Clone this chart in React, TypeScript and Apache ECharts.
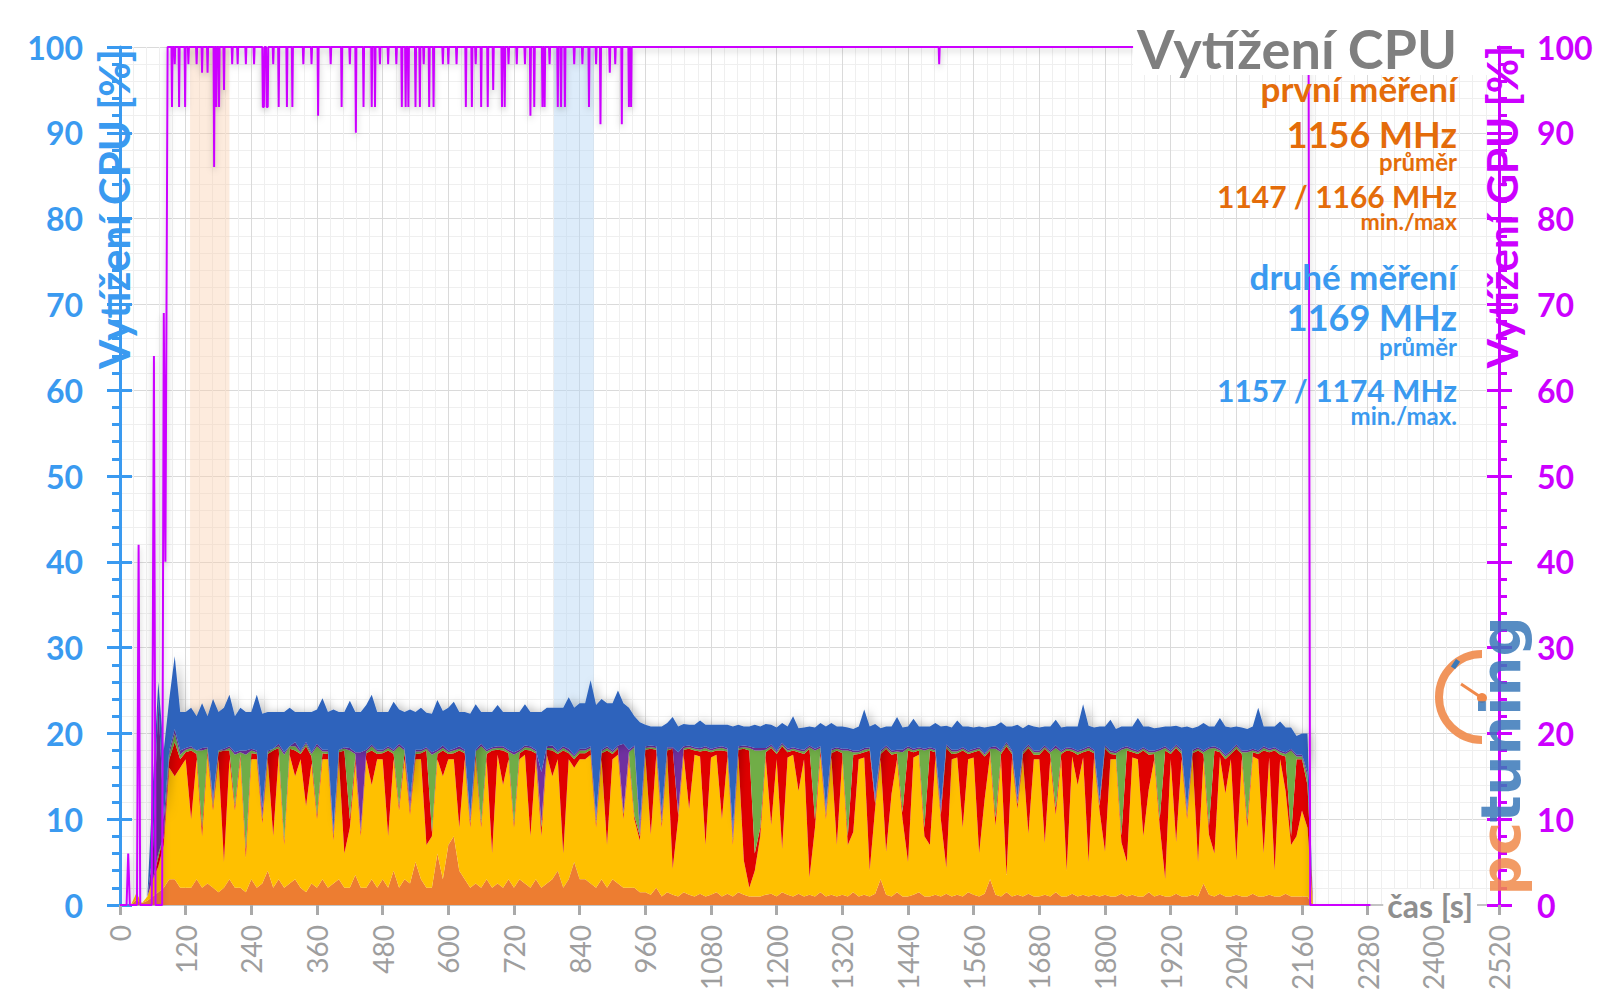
import { useEffect, useRef } from "react";
import * as echarts from "echarts";

// sampling interval of the CPU traces (seconds)
const STEP_S = 10;
const X_MAX = 2520;

// stacked CPU load per thread group [% of CPU], one value per STEP_S, t = 0 … 2180 s
const loadOrange = [
  0, 0, 0, 0.6, 0.2, 0.5, 1, 1.5, 2, 3, 3, 2,
  2, 2, 3, 2, 2.5, 2, 1.5, 2, 3, 2, 2, 1.5,
  3, 2, 2.5, 4, 2, 3, 2, 2.5, 3, 2, 1.5, 2.5,
  2, 3, 2, 2.5, 3, 2, 2, 3.5, 2, 2, 3, 2,
  3, 2, 4, 2, 3, 2.5, 5, 3, 2, 2, 6, 3,
  7, 8, 4, 3, 2, 2.5, 2, 3, 2, 2.5, 2, 3,
  2, 3, 2.5, 2, 3, 2, 2.5, 3, 4, 2, 3, 5,
  3, 3, 2.5, 2, 3, 2, 3, 2.5, 2, 2, 2, 1.5,
  1.5, 1.2, 2, 1, 1.5, 1.2, 1, 1.5, 1.2, 1, 1.3, 1,
  1.2, 1.5, 1, 1.3, 1, 1.5, 1.2, 1, 1, 1, 1.2, 1.3,
  1, 1.5, 1.2, 1, 1.3, 1, 1.2, 1, 1.5, 1, 1.2, 1,
  1.2, 1, 1.5, 1, 1.2, 1, 1.3, 3, 1.2, 1, 1.5, 1,
  1, 1.2, 1.5, 1, 1, 1.2, 1, 1.3, 1, 1.2, 1, 1.5,
  1.2, 1, 1.3, 3, 1.2, 1, 1.5, 1, 1.2, 1, 1.3, 1,
  1, 1.2, 1, 1.5, 1, 1, 1.3, 1, 1.2, 1, 1.2, 1,
  1.2, 1, 1, 1.3, 1, 1.2, 1, 1, 1.5, 1, 1.2, 1,
  1, 1.3, 1, 1, 1.2, 1, 2.5, 1.2, 1, 1.3, 1, 1,
  1.2, 1, 1, 1.3, 1, 1, 1.2, 1, 1, 1.3, 1, 1,
  1, 1, 0,
];
const loadYellow = [
  0, 0, 0, 0.8, 0, 0.5, 2, 3, 5, 13, 12, 14,
  15, 8, 14, 6, 15, 9, 15.5, 3, 14, 9, 15, 4,
  14, 15, 7, 13, 6, 14.5, 5, 15, 12, 15, 10, 14,
  8, 14, 15, 5, 14, 4, 7, 13, 6, 15, 11, 15,
  14, 6, 13, 9, 14, 8, 12, 14, 5, 6, 11, 12,
  10, 9, 5, 14, 7, 14.5, 7, 14, 4, 15, 12, 14,
  7, 14, 15, 6, 14, 6, 15, 12, 13, 4, 14, 11,
  14, 14, 15, 7, 14, 5, 14, 15, 8, 15, 8, 6,
  16, 7, 15.5, 8, 16, 3, 9, 16, 10, 16.5, 16, 6,
  16, 16, 9, 16, 6, 16, 4, 1, 3, 7, 16, 8,
  16, 5, 16, 16.5, 12, 16, 2, 8, 16, 9, 16, 6,
  16, 6, 7, 16, 16, 3, 10, 14, 5, 12, 15.5, 9,
  4, 16, 16, 7, 6, 16, 9, 3, 16, 16, 8, 15.5,
  16, 5, 11, 14.5, 8, 16, 2, 16, 10, 16, 7, 16,
  16, 6, 16, 9, 16, 3, 16, 13, 16, 4, 16, 10,
  5, 16, 16, 6, 4, 16, 16, 7, 12, 16, 8, 2,
  16, 6, 16, 9, 16, 4, 14.5, 7, 5, 16, 12, 16,
  4, 16, 8, 16, 16, 5, 16, 3, 16, 12, 6, 7,
  10, 8, 0,
];
const loadRed = [
  0, 0, 0, 0, 0, 0, 0, 1, 1, 1, 4, 1,
  0.8, 8, 0.6, 1, 0.5, 0.5, 0.8, 13, 1, 0.5, 0.6, 1,
  0.7, 0.6, 0.5, 0.6, 10, 0.8, 0.5, 0.7, 3, 0.6, 7, 0.8,
  0.5, 0.7, 0.6, 0.5, 0.8, 12, 1, 0.8, 0.5, 0.7, 4, 0.6,
  0.7, 10, 0.6, 0.5, 0.8, 0.5, 0.6, 0.7, 11, 0.5, 0.6, 3,
  0.6, 0.7, 9, 0.7, 0.5, 0.7, 0.5, 0.6, 12, 0.6, 4, 0.7,
  0.5, 0.7, 0.6, 10, 0.7, 1, 0.6, 3, 0.6, 12, 0.7, 1,
  0.7, 0.7, 0.6, 0.5, 0.7, 11, 0.6, 0.7, 0.5, 0.6, 0.4, 0.5,
  0.6, 10, 0.6, 0.5, 0.5, 14, 0.5, 0.6, 7, 0.5, 0.6, 11,
  0.6, 0.5, 8, 0.6, 0.5, 0.6, 13, 16, 2, 1, 0.6, 9,
  0.6, 12, 0.6, 0.5, 4.5, 0.6, 15, 1, 0.6, 0.5, 0.5, 11,
  0.5, 1, 9, 0.6, 0.6, 14, 0.5, 0.6, 12, 4.5, 0.7, 0.8,
  13, 0.6, 0.5, 1, 11, 0.6, 0.5, 14, 0.6, 0.5, 9, 0.6,
  0.6, 12, 5, 0.5, 1, 0.6, 15, 0.6, 0.5, 0.6, 10, 0.5,
  0.5, 11, 0.6, 0.8, 0.6, 14, 0.6, 3.5, 0.6, 13, 0.5, 0.5,
  12, 0.6, 0.5, 0.8, 13, 0.6, 0.6, 10, 4, 0.6, 0.8, 15,
  0.6, 11, 0.6, 0.5, 0.5, 13, 0.6, 1, 12, 0.5, 4, 0.6,
  13, 0.6, 0.8, 0.5, 0.6, 12, 0.6, 14, 0.5, 4, 1, 9,
  6, 5, 0,
];
const loadGreen = [
  0, 0, 0, 0, 0, 0, 0, 0.5, 0, 0.5, 1, 0.5,
  0.3, 0.3, 0.4, 9, 0.2, 0.5, 0.2, 0, 0.3, 6, 0.2, 11,
  0.3, 0.2, 0.3, 0.2, 0.2, 0.2, 10, 0.3, 0.5, 0.2, 0.3, 0.3,
  8, 0.2, 0.3, 0.3, 0.3, 0.2, 8, 0.3, 0.3, 0.2, 0.5, 0.3,
  0.2, 0.3, 0.3, 7, 0.2, 0.3, 0.3, 0.2, 0.2, 9, 0.3, 0.3,
  0.2, 0.3, 0.2, 0.2, 0.3, 0.2, 9, 0.3, 0.2, 0.2, 0.3, 0.2,
  8, 0.2, 0.3, 0.3, 0.2, 0.5, 0.2, 0.3, 0.2, 0.3, 0.2, 0.3,
  0.3, 0.3, 0.2, 0.3, 0.2, 0.3, 0.2, 0.2, 0.3, 0.2, 8, 0.3,
  0.2, 0.2, 0.2, 0.3, 0.2, 0, 0.3, 0.2, 0.2, 0.2, 0.2, 0.3,
  0.2, 0.2, 0.3, 0.2, 0.3, 0.2, 0.2, 0.3, 12, 9, 0.3, 0.2,
  0.2, 0.2, 0.2, 0.2, 0.2, 0.3, 0.2, 8, 0.2, 0.3, 0.3, 0.2,
  0.3, 10, 0.3, 0.2, 0.3, 0.2, 0.3, 0.2, 0.2, 0.3, 0.2, 7,
  0.3, 0.2, 0.2, 9, 0.2, 0.2, 0.3, 0.2, 0.3, 0.2, 0.2, 0.2,
  0.2, 0.2, 0.2, 0.2, 8, 0.2, 0.3, 0.2, 0.3, 0.2, 0.2, 0.3,
  0.3, 0.2, 0.2, 7, 0.2, 0.2, 0.2, 0.3, 0.2, 0.3, 0.2, 0.3,
  0.2, 0.2, 0.2, 10, 0.3, 0.2, 0.2, 0.2, 0.3, 0.2, 8, 0.3,
  0.2, 0.2, 0.3, 0.3, 0.2, 0.2, 0.2, 9, 0.3, 0.2, 0.3, 0.2,
  0.3, 0.2, 8, 0.2, 0.2, 0.3, 0.2, 0.2, 0.3, 0.3, 10, 0.3,
  0.3, 1, 0,
];
const loadPurple = [
  0, 0, 0, 0, 0, 0, 3, 18, 2, 0.5, 0.5, 0.5,
  0.2, 0.2, 0, 0.3, 0.2, 0.5, 0, 0.2, 0.2, 0.3, 0.2, 0.5,
  0.2, 0.2, 1, 0.2, 0, 0.3, 0.3, 0, 0.5, 0.2, 0.2, 0.2,
  0.3, 0.2, 0.2, 0.5, 0, 0.2, 0.3, 0.2, 9, 0.2, 0.2, 0.2,
  0.2, 0.2, 0.2, 0.3, 0.2, 1, 0.2, 0.2, 0.2, 0.3, 0.2, 0.3,
  0.2, 0.2, 0.3, 0.2, 0.5, 0.2, 0.3, 0.2, 0.2, 0.2, 0.2, 0.2,
  0.3, 0.2, 0.2, 0.2, 0.2, 6, 0.2, 0.3, 0.2, 0.2, 0.3, 0.2,
  0.2, 0.2, 0.2, 0.5, 0.2, 0.2, 0.2, 0.2, 8, 0.3, 0.2, 1,
  0.2, 0.2, 0.2, 1, 0.2, 0.2, 7, 0.2, 0.2, 0.2, 0.2, 0.2,
  0.2, 0.2, 0.2, 0.2, 1, 0.2, 0.2, 0.2, 0.3, 0.3, 0.2, 0.2,
  0.2, 0.2, 0.2, 0.2, 0.2, 0.2, 0.2, 0.2, 0.2, 0.5, 0.2, 0.2,
  0.2, 0.2, 0.2, 0.2, 0.2, 0.2, 0.5, 0.2, 0.2, 0.2, 0.2, 0.3,
  0.2, 0.2, 0.2, 0.2, 0.2, 0.2, 0.7, 0.2, 0.2, 0.2, 0.2, 0.2,
  0.2, 0.2, 0.2, 0.2, 0.3, 0.2, 0.2, 0.2, 0.5, 0.2, 0.2, 0.2,
  0.2, 0.2, 0.2, 0.3, 0.2, 0.2, 0.2, 0.2, 0.2, 0.2, 0.2, 0.5,
  0.2, 0.2, 0.2, 0.2, 0.2, 0.2, 0.2, 0.2, 0.2, 0.2, 0.2, 0.2,
  0.2, 0.2, 0.2, 0.5, 0.2, 0.2, 0.2, 0.2, 0.2, 0.2, 0.2, 0.2,
  0.2, 0.2, 0.2, 0.2, 0.2, 0.2, 0.2, 0.2, 0.2, 0.2, 0.2, 0.2,
  0.2, 0.5, 0,
];
const loadBlue = [
  0, 0, 0, 0, 0, 0, 8, 2, 8, 6, 8.5, 4.5,
  4.2, 4.5, 4, 5.2, 3.6, 11.5, 4.5, 4.8, 6, 4.2, 5, 4.5,
  4.3, 6.5, 11, 4.5, 4.3, 3.7, 4.7, 4.5, 3.5, 4.5, 3.5, 4.7,
  4, 6, 4.4, 14, 4.4, 4.1, 5.5, 4.7, 4.7, 5.2, 5.8, 4.4,
  4.4, 4, 5.6, 4, 4.3, 10.5, 4.4, 4.9, 4, 4.5, 5.8, 4,
  5, 5.5, 4, 4.4, 12, 5.3, 3.7, 4.4, 4.1, 4.8, 4, 4.4,
  4.7, 4.4, 4.8, 4, 4.4, 7, 4.5, 4.4, 5, 4.5, 6, 5.5,
  5.3, 5.3, 7.7, 13, 5.9, 5, 5.5, 6.4, 4.7, 4.9, 3.4, 12,
  2.5, 2.2, 2.3, 10, 2.8, 3.5, 3, 2.6, 2.4, 2.6, 3.2, 2.5,
  2.8, 2.6, 2.5, 2.7, 12, 2.5, 2.2, 2.3, 2.7, 2.5, 2.8, 2.3,
  2.7, 2.3, 2.6, 3.6, 2.4, 2.6, 2.2, 2.5, 2.7, 9.5, 3, 2.4,
  2.6, 2.5, 2.5, 2.8, 4.5, 2.4, 8.5, 2.6, 2.2, 2.8, 3.8, 2.6,
  2.3, 3.5, 2.4, 2.6, 2.4, 3, 9.3, 2.2, 2.6, 3.4, 2.4, 2.8,
  2.5, 2.4, 3, 2.4, 2.4, 3.3, 1.8, 2.8, 8.5, 2.6, 2.3, 2.8,
  2.7, 2.2, 2.8, 3, 2.7, 2.4, 2.5, 2.8, 5.2, 2.4, 2.6, 8.5,
  2.2, 3.6, 2.6, 2.5, 2.3, 2.6, 3.8, 2.4, 2.8, 2.6, 2.5, 2.3,
  2.8, 2.2, 2.6, 9.5, 2.5, 2.4, 3.2, 2.4, 2.3, 3.6, 3.3, 2.7,
  2.1, 2.7, 2.5, 2.6, 5, 2.3, 2.6, 2.4, 3.4, 2.9, 2.5, 2.2,
  2.5, 4.5, 0,
];

// GPU load [%] as (time s, load %) samples
const gpuTrace: [number, number][] = [
  [0, 0], [12, 0], [15, 6], [18, 0], [31, 0], [34, 42], [37, 0], [58, 0], [62, 64], [65, 0],
  [77, 0], [80, 69], [83, 40], [87, 100],
  [94, 100], [95, 93], [96, 100], [99, 100], [100, 98], [101, 100], [107, 100], [108, 93], [109, 100],
  [118, 100], [119, 93], [120, 100], [124, 100], [125, 98], [126, 100], [139, 100], [140, 98], [141, 100],
  [149, 100], [150, 97], [151, 100], [159, 100], [160, 97], [161, 100], [171, 100], [172, 86], [173, 100],
  [175, 100], [176, 93], [177, 100], [180, 100], [181, 93], [182, 100], [189, 100], [190, 95], [191, 100],
  [204, 100], [205, 98], [206, 100], [214, 100], [215, 98], [216, 100], [229, 100], [230, 98], [231, 100],
  [244, 100], [245, 98], [246, 100], [260, 100], [261, 93], [263, 93], [264, 100], [267, 100], [268, 93],
  [270, 93], [271, 100], [279, 100], [280, 98], [281, 100], [289, 100], [290, 93], [291, 100],
  [304, 100], [305, 93], [306, 100], [314, 100], [315, 93], [316, 100], [334, 100], [335, 98], [336, 100],
  [349, 100], [350, 98], [351, 100], [361, 100], [362, 92], [363, 100], [384, 100], [385, 98], [386, 100],
  [404, 100], [405, 93], [406, 100], [419, 100], [420, 98], [421, 100], [430, 100], [431, 90], [432, 100],
  [444, 100], [445, 93], [446, 100], [459, 100], [460, 93], [461, 100], [465, 100], [466, 93], [467, 100],
  [474, 100], [475, 98], [476, 100], [489, 100], [490, 98], [491, 100], [504, 100], [505, 98], [506, 100],
  [514, 100], [515, 93], [516, 100], [521, 100], [522, 93], [523, 100], [526, 100], [527, 93], [528, 100],
  [539, 100], [540, 93], [541, 100], [547, 100], [548, 93], [549, 100], [554, 100], [555, 98], [556, 100],
  [564, 100], [565, 93], [566, 100], [572, 100], [573, 93], [574, 100], [589, 100], [590, 98], [591, 100],
  [599, 100], [600, 98], [601, 100], [614, 100], [615, 98], [616, 100], [631, 100], [632, 93], [633, 100],
  [642, 100], [643, 93], [644, 100], [649, 100], [650, 98], [651, 100], [659, 100], [660, 93], [661, 100],
  [671, 100], [672, 93], [673, 100], [681, 100], [682, 95], [683, 100], [697, 100], [698, 93], [699, 100],
  [702, 100], [703, 93], [704, 100], [709, 100], [710, 98], [711, 100], [724, 100], [725, 98], [726, 100],
  [739, 100], [740, 98], [741, 100], [749, 100], [750, 92], [751, 100], [756, 100], [757, 93], [758, 100],
  [771, 100], [772, 93], [773, 100], [775, 100], [776, 93], [777, 100], [784, 100], [785, 98], [786, 100],
  [799, 100], [800, 93], [801, 100], [805, 100], [806, 93], [807, 100], [812, 100], [813, 93], [814, 100],
  [829, 100], [830, 98], [831, 100], [844, 100], [845, 98], [846, 100], [856, 100], [857, 93], [858, 100],
  [869, 100], [870, 98], [871, 100], [877, 100], [878, 91], [879, 100], [894, 100], [895, 97], [896, 100],
  [904, 100], [905, 98], [906, 100], [916, 100], [917, 91], [918, 100], [929, 100], [930, 93], [931, 100],
  [933, 100], [934, 93], [935, 100], [943, 100],
  [1496, 100], [1497, 98], [1498, 100], [2172, 100], [2175, 0], [2285, 0],
];

// shaded measurement windows [s]
const firstWindow = [128, 200];
const secondWindow = [793, 866];

// annotation texts
const chartTitle = "Vytížení CPU";
const firstLabel = "první měření";
const firstAvg = "1156 MHz";
const firstMinMax = "1147 / 1166 MHz";
const secondLabel = "druhé měření";
const secondAvg = "1169 MHz";
const secondMinMax = "1157 / 1174 MHz";

// hidden category axis for the stacked CPU traces (one slot per STEP_S up to X_MAX)
const cpuSlots = Array.from({ length: X_MAX / STEP_S + 1 }, (_, i) => String(i * STEP_S));

const BLUE_AXIS = "#3A9AF0";
const MAGENTA = "#CC00FF";
const ORANGE_TXT = "#E46C0A";
const FONT = "Lato";

export default function App() {
  const ref = useRef<HTMLDivElement>(null);

  useEffect(() => {
    if (!ref.current) return;
    const chart = echarts.init(ref.current, undefined, { renderer: "svg" });

    const areaSeries = (name: string, data: number[], color: string, extra: any = {}) => ({
      name,
      type: "line",
      xAxisIndex: 1,
      stack: "cpu",
      data,
      symbol: "none",
      lineStyle: { width: 0 },
      itemStyle: { color },
      areaStyle: { color, opacity: 1, ...extra },
      z: 3,
      silent: true,
    });

    const txt = (text: string, y: number, size: number, color: string) => ({
      type: "text",
      x: 1457,
      y,
      z: 100,
      style: {
        text,
        fill: color,
        font: `bold ${size}px ${FONT}`,
        align: "right",
        verticalAlign: "middle",
      },
    });

    const option: any = {
      animation: false,
      backgroundColor: "#ffffff",
      grid: { left: 120, right: 101, top: 47, bottom: 95, outerBoundsMode: "none" },
      xAxis: [
        {
          type: "value",
          min: 0,
          max: X_MAX,
          interval: 120,
          axisLine: { show: true, onZero: false, lineStyle: { color: "#C4C4C4", width: 2 } },
          axisTick: { show: true, length: 10, lineStyle: { color: "#AAAAAA", width: 3 } },
          axisLabel: {
            rotate: 90,
            color: "#9E9E9E",
            fontSize: 28,
            fontFamily: FONT,
            margin: 20,
            formatter: (v: number) => String(v),
          },
          splitLine: { show: true, lineStyle: { color: "#DADADA", width: 1 } },
          minorTick: { show: false, splitNumber: 5 },
          minorSplitLine: { show: true, lineStyle: { color: "#EFEFEF", width: 1 } },
        },
        {
          type: "category",
          data: cpuSlots,
          boundaryGap: false,
          show: false,
        },
      ],
      yAxis: [
        {
          type: "value",
          position: "left",
          min: 0,
          max: 100,
          interval: 10,
          axisLine: { show: true, lineStyle: { color: BLUE_AXIS, width: 3 } },
          axisTick: { show: true, length: 13, lineStyle: { color: BLUE_AXIS, width: 3 } },
          minorTick: { show: true, splitNumber: 5, length: 8, lineStyle: { color: BLUE_AXIS, width: 3 } },
          axisLabel: { color: BLUE_AXIS, fontSize: 32, fontWeight: "bold", fontFamily: FONT, margin: 37 },
          splitLine: { show: true, lineStyle: { color: "#DADADA", width: 1 } },
          minorSplitLine: { show: true, lineStyle: { color: "#EFEFEF", width: 1 } },
        },
        {
          type: "value",
          position: "right",
          min: 0,
          max: 100,
          interval: 10,
          axisLine: { show: true, lineStyle: { color: MAGENTA, width: 3 } },
          axisTick: { show: true, length: 13, lineStyle: { color: MAGENTA, width: 3 } },
          minorTick: { show: true, splitNumber: 5, length: 8, lineStyle: { color: MAGENTA, width: 3 } },
          axisLabel: { color: MAGENTA, fontSize: 32, fontWeight: "bold", fontFamily: FONT, margin: 38 },
          splitLine: { show: false },
        },
        {
          type: "value",
          position: "left",
          min: 0,
          max: 100,
          interval: 10,
          axisLine: { show: false },
          axisTick: { show: true, inside: true, length: 12, lineStyle: { color: BLUE_AXIS, width: 3 } },
          axisLabel: { show: false },
          splitLine: { show: false },
        },
        {
          type: "value",
          position: "right",
          min: 0,
          max: 100,
          interval: 10,
          axisLine: { show: false },
          axisTick: { show: true, inside: true, length: 12, lineStyle: { color: MAGENTA, width: 3 } },
          axisLabel: { show: false },
          splitLine: { show: false },
        },
      ],
      series: [
        {
          name: "windows",
          type: "line",
          data: [],
          z: 1,
          silent: true,
          markArea: {
            silent: true,
            data: [
              [
                { xAxis: firstWindow[0], itemStyle: { color: "rgba(250, 205, 170, 0.4)" } },
                { xAxis: firstWindow[1] },
              ],
              [
                { xAxis: secondWindow[0], itemStyle: { color: "rgba(180, 212, 245, 0.45)" } },
                { xAxis: secondWindow[1] },
              ],
            ],
          },
        },
        areaSeries("vlákna A", loadOrange, "#ED7D31"),
        areaSeries("vlákna B", loadYellow, "#FFC000"),
        areaSeries("vlákna C", loadRed, "#E00000"),
        areaSeries("vlákna D", loadGreen, "#70AD47"),
        areaSeries("vlákna E", loadPurple, "#7030A0"),
        areaSeries("vlákna F", loadBlue, "#2D63BC", {
          shadowColor: "rgba(0,0,0,0.25)",
          shadowBlur: 8,
          shadowOffsetX: 4,
        }),
        {
          name: "GPU",
          type: "line",
          yAxisIndex: 1,
          data: gpuTrace,
          symbol: "none",
          z: 5,
          silent: true,
          lineStyle: {
            color: MAGENTA,
            width: 2,
            shadowColor: "rgba(0,0,0,0.25)",
            shadowBlur: 6,
            shadowOffsetY: 3,
          },
          itemStyle: { color: MAGENTA },
        },
      ],
      graphic: [
        {
          type: "text",
          x: 1497,
          y: 48,
          z: 100,
          style: {
            text: chartTitle,
            fill: "#7F7F7F",
            font: `bold 54px ${FONT}`,
            align: "right",
            verticalAlign: "middle",
            backgroundColor: "#ffffff",
            padding: [0, 40, 0, 4],
          },
        },
        txt(firstLabel, 88, 35, ORANGE_TXT),
        txt(firstAvg, 134, 36, ORANGE_TXT),
        txt("průměr", 161, 24, ORANGE_TXT),
        txt(firstMinMax, 196, 30, ORANGE_TXT),
        txt("min./max", 221, 23, ORANGE_TXT),
        txt(secondLabel, 276, 35, BLUE_AXIS),
        txt(secondAvg, 317, 36, BLUE_AXIS),
        txt("průměr", 346, 24, BLUE_AXIS),
        txt(secondMinMax, 390, 30, BLUE_AXIS),
        txt("min./max.", 415, 24, BLUE_AXIS),
        {
          type: "text",
          x: 114,
          y: 209,
          rotation: Math.PI / 2,
          z: 100,
          style: {
            text: "Vytížení CPU [%]",
            fill: BLUE_AXIS,
            font: `bold 42px ${FONT}`,
            align: "center",
            verticalAlign: "middle",
          },
        },
        {
          type: "text",
          x: 1502,
          y: 207,
          rotation: Math.PI / 2,
          z: 100,
          style: {
            text: "Vytížení GPU [%]",
            fill: MAGENTA,
            font: `bold 42px ${FONT}`,
            align: "center",
            verticalAlign: "middle",
          },
        },
        {
          type: "text",
          x: 1477,
          y: 905,
          z: 100,
          style: {
            text: "čas [s]",
            fill: "#8F8F8F",
            font: `bold 32px ${FONT}`,
            align: "right",
            verticalAlign: "middle",
            backgroundColor: "#ffffff",
            padding: [0, 4, 0, 4],
          },
        },
        {
          type: "arc",
          z: 90,
          shape: { cx: 1482, cy: 697, r: 43, startAngle: Math.PI / 2, endAngle: (3 * Math.PI) / 2, clockwise: true },
          style: { stroke: "#F0894A", lineWidth: 8, fill: "none", opacity: 0.9 },
        },
        {
          type: "line",
          z: 90,
          shape: { x1: 1482, y1: 698, x2: 1461, y2: 684 },
          style: { stroke: "#F0894A", lineWidth: 3 },
        },
        {
          type: "circle",
          z: 90,
          shape: { cx: 1482, cy: 698, r: 5 },
          style: { fill: "#F0894A" },
        },
        {
          type: "rect",
          z: 91,
          x: 1456,
          y: 659,
          rotation: -0.6,
          shape: { x: 0, y: 0, width: 5, height: 9 },
          style: { fill: "#3A78B8" },
        },
        {
          type: "text",
          x: 1500,
          y: 756,
          rotation: Math.PI / 2,
          z: 95,
          style: {
            text: "{a|pc}{b|tuning}",
            align: "center",
            verticalAlign: "middle",
            opacity: 0.85,
            rich: {
              a: { fill: "#F0894A", font: "bold 56px 'DejaVu Sans'" },
              b: { fill: "#3A78B8", font: "bold 56px 'DejaVu Sans'" },
            },
          },
        },
      ],
    };

    chart.setOption(option);
    return () => chart.dispose();
  }, []);

  return (
    <div
      ref={ref}
      style={{ position: "fixed", left: 0, top: 0, width: 1600, height: 1000, background: "#fff" }}
    />
  );
}
